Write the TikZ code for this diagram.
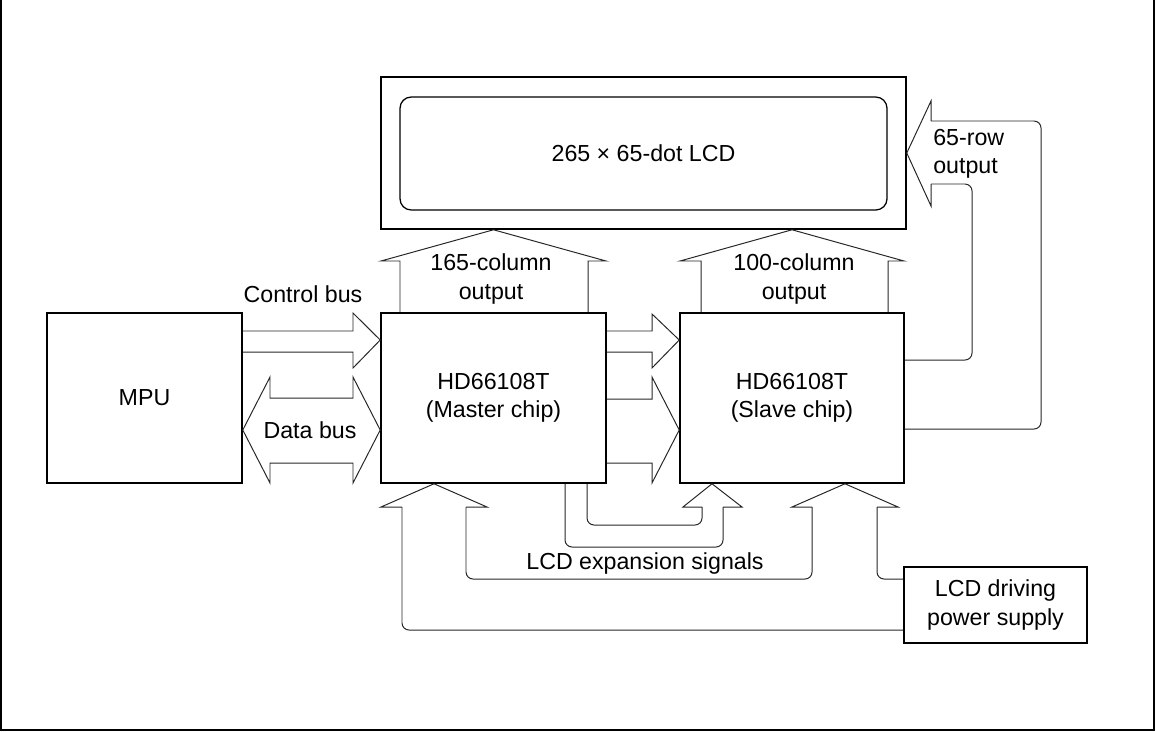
\documentclass[tikz,border=0pt]{standalone}
\usepackage{fontspec}
\setmainfont{Liberation Sans}
\usetikzlibrary{calc}

\newcommand{\pxu}{0.025cm}
\tikzset{
  chip/.style={draw,line width=1.1pt,align=center,inner sep=0pt},
  barrow/.style={draw,line width=0.7pt,black!85},
  wire/.style={barrow,rounded corners=5pt},
  lbl/.style={inner sep=0pt,align=center},
}

\begin{document}
\begin{tikzpicture}[x=\pxu,y=-\pxu,font=\fontsize{16.5}{20}\selectfont]
  \useasboundingbox (0,0) rectangle (1156,731);
  \path[draw,line width=1.4pt] (1,0)--(1,730)--(1154,730)--(1154,0);

  % blocks
  \node[chip,minimum width=195*\pxu,minimum height=170*\pxu] (mpu) at (144.5,398) {MPU};
  \node[chip,minimum width=225*\pxu,minimum height=170*\pxu] (master) at (493.5,398) {HD66108T\\(Master chip)};
  \node[chip,minimum width=224*\pxu,minimum height=170*\pxu] (slave) at (792,398) {HD66108T\\(Slave chip)};
  \node[chip,minimum width=525*\pxu,minimum height=152*\pxu] (lcd) at (643.5,153) {};
  \node[chip,line width=0.9pt,rounded corners=8pt,minimum width=487*\pxu,minimum height=113*\pxu] (panel) at (643.5,153.5) {265 × 65-dot LCD};
  \node[chip,minimum width=183*\pxu,minimum height=76*\pxu] (power) at (995.5,605) {LCD driving\\power supply};

  % buses MPU -> master
  \path[barrow] (mpu.east |- 0,331)--(353,331)--(353,313)--(master.west |- 0,340)--(353,368)--(353,352)--(mpu.east |- 0,352);
  \path[barrow] (270,398)--(353,398)--(353,377)--(master.west |- 0,430)--(353,483)--(353,463)--(270,463)--(270,483)--(mpu.east |- 0,430)--(270,377)--cycle;
  \node[lbl] (ctrl) at (303,294) {Control bus};
  \node[lbl] (data) at (310,430) {Data bus};

  % master -> slave
  \path[barrow] (master.east |- 0,331)--(652,331)--(652,314)--(slave.west |- 0,340)--(652,368)--(652,352)--(master.east |- 0,352);
  \path[barrow] (master.east |- 0,399)--(652,399)--(652,377)--(slave.west |- 0,430)--(652,483)--(652,463)--(master.east |- 0,463);

  % column outputs
  \path[barrow] (master.north -| 400,0)--(400,261)--(381,261)--(master.north |- lcd.south)--(606,261)--(588,261)--(master.north -| 588,0);
  \path[barrow] (slave.north -| 701,0)--(701,261)--(680,261)--(slave.north |- lcd.south)--(904,261)--(888,261)--(slave.north -| 888,0);
  \node[lbl] (colm) at (491,279) {165-column\\output};
  \node[lbl] (cols) at (794,279) {100-column\\output};

  % row output
  \path[wire] (slave.east |- 0,360)--(972,360)--(972,184)--(931,184);
  \path[barrow] (931,184)--(931,206)--(lcd.east |- 0,153)--(931,101)--(931,121);
  \path[wire] (931,121)--(1041,121)--(1041,429)--(slave.east |- 0,429);
  \node[lbl,anchor=west,align=left] (row) at (933,154) {65-row\\output};

  % inputs from below
  \path[barrow] (402,507)--(381,507)--(master.south -| 434,0)--(487,507)--(466,507);
  \path[barrow] (702,507)--(683,507)--(slave.south -| 712,0)--(742,507)--(723,507);
  \path[barrow] (812,507)--(792,507)--(slave.south -| 845,0)--(898,507)--(877,507);
  \path[wire] (master.south -| 587,0)--(587,525)--(702,525)--(702,507);
  \path[wire] (master.south -| 565,0)--(565,547)--(723,547)--(723,507);
  \path[wire] (466,507)--(466,579)--(812,579)--(812,507);
  \path[wire] (877,507)--(877,579)--(power.west |- 0,579);
  \path[wire] (402,507)--(402,630)--(power.west |- 0,630);
  \node[lbl] (exp) at (645,563) {LCD expansion signals};
\end{tikzpicture}
\end{document}
